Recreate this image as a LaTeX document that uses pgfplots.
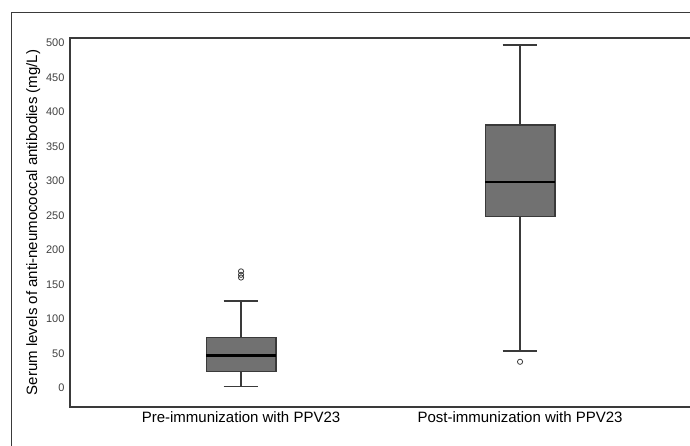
\documentclass[border=0pt]{standalone}
\usepackage{fontspec}
\setmainfont{Liberation Sans}
\usepackage{pgfplots}
\pgfplotsset{compat=1.18}
\definecolor{boxgray}{HTML}{717171}
\definecolor{linegray}{HTML}{3A3A3A}
\definecolor{ticktext}{HTML}{404040}

\begin{document}
\begin{tikzpicture}
\useasboundingbox (0bp,0bp) rectangle (690bp,446bp);
% outer frame (cropped on right and bottom)
\draw[linegray, line width=1bp] (11bp,-10bp) -- (11bp,433bp) -- (700bp,433bp);
\begin{axis}[
    at={(70bp,39bp)}, anchor=south west,
    scale only axis,
    width=630bp, height=369bp,
    xmin=-0.613, xmax=1.645,
    ymin=-27.5, ymax=507,
    xtick={0,1},
    xticklabels={Pre-immunization with PPV23, Post-immunization with PPV23},
    ytick={0,50,...,500},
    major tick length=0pt,
    axis line style={linegray, line width=1.5bp},
    tick label style={font=\fontsize{11bp}{13bp}\selectfont},
    yticklabel style={ticktext, xshift=-2bp},
    xticklabel style={black, font=\fontsize{15bp}{17bp}\selectfont, yshift=-1bp},
    /pgf/number format/assume math mode=true,
    ylabel={Serum levels of anti-neumococcal antibodies (mg/L)},
    ylabel style={font=\fontsize{15bp}{17bp}\selectfont, yshift=-1bp},
    unbounded coords=jump,
    clip=false,
]
% boxes (Q1 to Q3)
\addplot[fill=boxgray, draw=linegray, line width=1.2bp] coordinates {
    (-0.125,23.6) (0.125,23.6) (0.125,73.5) (-0.125,73.5) (-0.125,23.6)};
\addplot[fill=boxgray, draw=linegray, line width=1.2bp] coordinates {
    (0.875,249) (1.125,249) (1.125,381) (0.875,381) (0.875,249)};
% whiskers and caps
\addplot[linegray, line width=1.4bp] coordinates {
    (0,73.5) (0,126) (nan,nan) (-0.0625,126) (0.0625,126) (nan,nan)
    (0,23.6) (0,2) (nan,nan) (-0.0625,2) (0.0625,2)};
\addplot[linegray, line width=1.4bp] coordinates {
    (1,381) (1,497) (nan,nan) (0.9375,497) (1.0625,497) (nan,nan)
    (1,249) (1,53.6) (nan,nan) (0.9375,53.6) (1.0625,53.6)};
% medians
\addplot[black, line width=2.6bp] coordinates {(-0.125,46.8) (0.125,46.8)};
\addplot[black, line width=2.6bp] coordinates {(0.875,298.5) (1.125,298.5)};
% outliers
\addplot[only marks, mark=o, mark size=2.6bp, linegray, line width=0.8bp] coordinates {
    (0,160) (0,164) (0,169) (1,38)};
\end{axis}
\end{tikzpicture}
\end{document}
